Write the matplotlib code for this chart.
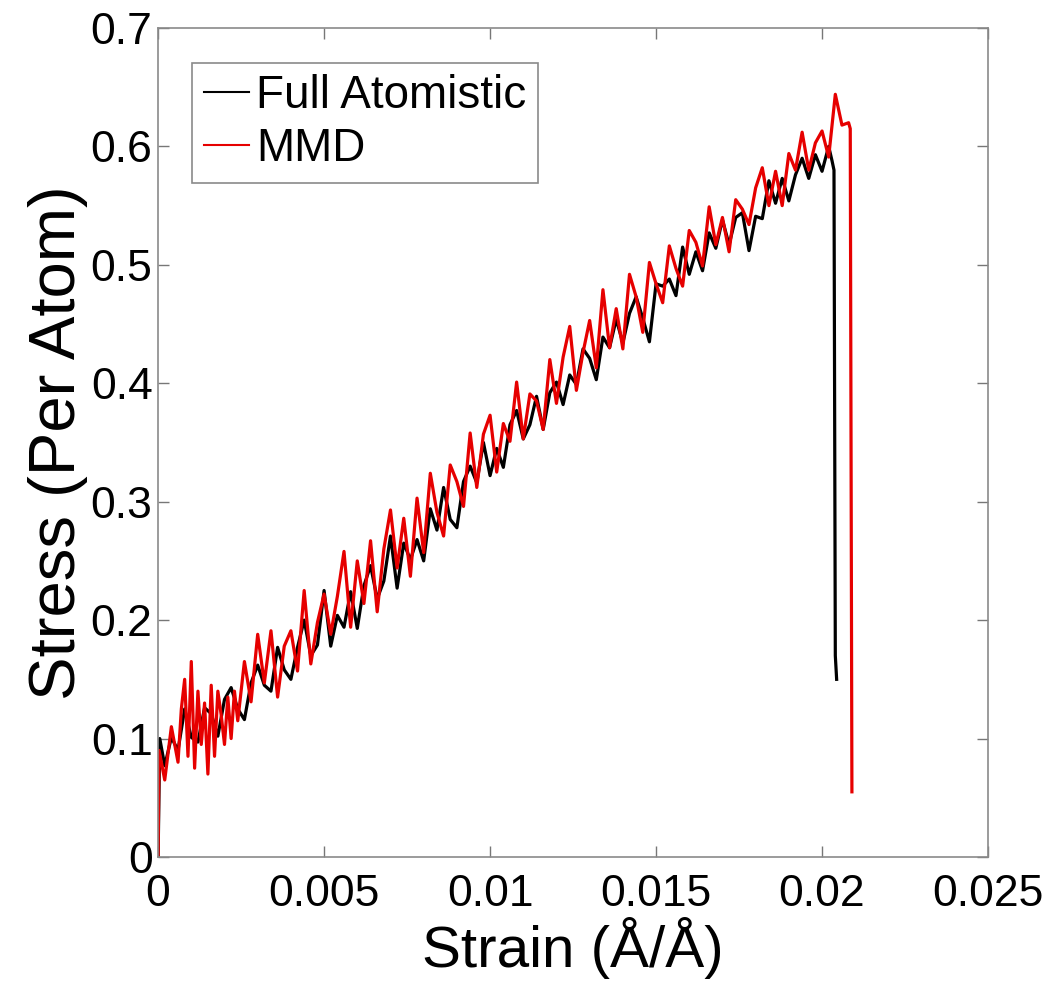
import matplotlib
import matplotlib.pyplot as plt

matplotlib.use("Agg")
plt.rcParams["font.family"] = ["Liberation Sans", "DejaVu Sans"]

# Full atomistic curve (strain, stress)
fa_strain = [
    0.0, 0.00005, 0.0002, 0.0004, 0.0006, 0.0008, 0.001, 0.0012, 0.0014, 0.0016,
    0.0018, 0.002, 0.0022, 0.0024, 0.0026, 0.0028, 0.003, 0.0032, 0.0034, 0.0036,
    0.0038, 0.004, 0.0042, 0.0044, 0.0046, 0.0048, 0.005, 0.0052, 0.0054, 0.0056,
    0.0058, 0.006, 0.0062, 0.0064, 0.0066, 0.0068, 0.007, 0.0072, 0.0074, 0.0076,
    0.0078, 0.008, 0.0082, 0.0084, 0.0086, 0.0088, 0.009, 0.0092, 0.0094, 0.0096,
    0.0098, 0.01, 0.0102, 0.0104, 0.0106, 0.0108, 0.011, 0.0112, 0.0114, 0.0116,
    0.0118, 0.012, 0.0122, 0.0124, 0.0126, 0.0128, 0.013, 0.0132, 0.0134, 0.0136,
    0.0138, 0.014, 0.0142, 0.0144, 0.0146, 0.0148, 0.015, 0.0152, 0.0154, 0.0156,
    0.0158, 0.016, 0.0162, 0.0164, 0.0166, 0.0168, 0.017, 0.0172, 0.0174, 0.0176,
    0.0178, 0.018, 0.0182, 0.0184, 0.0186, 0.0188, 0.019, 0.0192, 0.0194, 0.0196,
    0.0198, 0.02, 0.0202, 0.0203, 0.02036, 0.0204, 0.02044,
]
fa_stress = [
    0.0, 0.10, 0.077, 0.101, 0.090, 0.125, 0.101, 0.097, 0.126, 0.121,
    0.102, 0.133, 0.143, 0.125, 0.116, 0.147, 0.162, 0.145, 0.140, 0.177,
    0.158, 0.150, 0.177, 0.200, 0.170, 0.179, 0.225, 0.178, 0.204, 0.194,
    0.224, 0.193, 0.229, 0.246, 0.218, 0.233, 0.271, 0.227, 0.265, 0.251,
    0.268, 0.250, 0.294, 0.276, 0.312, 0.285, 0.278, 0.317, 0.330, 0.316,
    0.350, 0.322, 0.345, 0.329, 0.365, 0.377, 0.353, 0.365, 0.389, 0.361,
    0.392, 0.401, 0.382, 0.407, 0.399, 0.429, 0.421, 0.403, 0.439, 0.430,
    0.454, 0.434, 0.459, 0.473, 0.455, 0.435, 0.484, 0.482, 0.488, 0.474,
    0.515, 0.492, 0.511, 0.495, 0.527, 0.514, 0.538, 0.517, 0.540, 0.544,
    0.512, 0.541, 0.539, 0.571, 0.552, 0.573, 0.554, 0.576, 0.590, 0.573,
    0.593, 0.579, 0.600, 0.588, 0.580, 0.17, 0.15,
]

# MMD curve
mmd_strain = [
    0.0, 0.00003, 0.0002, 0.0004, 0.0006, 0.0007, 0.0008, 0.0009, 0.001, 0.0011,
    0.0012, 0.0013, 0.0014, 0.0015, 0.0016, 0.0017, 0.0018, 0.0019, 0.002, 0.0021,
    0.0022, 0.0023, 0.0024, 0.0026, 0.0028, 0.003, 0.0032, 0.0034, 0.0036, 0.0038,
    0.004, 0.0042, 0.0044, 0.0046, 0.0048, 0.005, 0.0052, 0.0054, 0.0056, 0.0058,
    0.006, 0.0062, 0.0064, 0.0066, 0.0068, 0.007, 0.0072, 0.0074, 0.0076, 0.0078,
    0.008, 0.0082, 0.0084, 0.0086, 0.0088, 0.009, 0.0092, 0.0094, 0.0096, 0.0098,
    0.01, 0.0102, 0.0104, 0.0106, 0.0108, 0.011, 0.0112, 0.0114, 0.0116, 0.0118,
    0.012, 0.0122, 0.0124, 0.0126, 0.0128, 0.013, 0.0132, 0.0134, 0.0136, 0.0138,
    0.014, 0.0142, 0.0144, 0.0146, 0.0148, 0.015, 0.0152, 0.0154, 0.0156, 0.0158,
    0.016, 0.0162, 0.0164, 0.0166, 0.0168, 0.017, 0.0172, 0.0174, 0.0176, 0.0178,
    0.018, 0.0182, 0.0184, 0.0186, 0.0188, 0.019, 0.0192, 0.0194, 0.0196, 0.0198,
    0.02, 0.0202, 0.0204, 0.0206, 0.0208, 0.02085, 0.0209,
]
mmd_stress = [
    0.0, 0.09, 0.065, 0.11, 0.08, 0.125, 0.15, 0.085, 0.165, 0.075,
    0.14, 0.095, 0.13, 0.07, 0.145, 0.085, 0.14, 0.12, 0.095, 0.135,
    0.10, 0.14, 0.115, 0.165, 0.131, 0.188, 0.147, 0.191, 0.135, 0.178,
    0.191, 0.157, 0.225, 0.163, 0.198, 0.222, 0.188, 0.220, 0.258, 0.194,
    0.250, 0.214, 0.267, 0.207, 0.260, 0.293, 0.244, 0.286, 0.237, 0.303,
    0.257, 0.324, 0.291, 0.271, 0.331, 0.317, 0.296, 0.358, 0.312, 0.357,
    0.373, 0.325, 0.366, 0.351, 0.401, 0.353, 0.391, 0.385, 0.361, 0.420,
    0.383, 0.422, 0.448, 0.394, 0.426, 0.453, 0.413, 0.479, 0.430, 0.463,
    0.429, 0.492, 0.473, 0.443, 0.502, 0.484, 0.468, 0.516, 0.497, 0.482,
    0.529, 0.519, 0.499, 0.549, 0.517, 0.540, 0.511, 0.555, 0.547, 0.534,
    0.565, 0.582, 0.550, 0.579, 0.550, 0.594, 0.580, 0.612, 0.580, 0.603,
    0.613, 0.591, 0.644, 0.618, 0.620, 0.615, 0.055,
]

x_ticks = [0, 0.005, 0.01, 0.015, 0.02, 0.025]
x_ticklabels = ["0", "0.005", "0.01", "0.015", "0.02", "0.025"]
y_ticks = [0, 0.1, 0.2, 0.3, 0.4, 0.5, 0.6, 0.7]
y_ticklabels = ["0", "0.1", "0.2", "0.3", "0.4", "0.5", "0.6", "0.7"]

fig = plt.figure(figsize=(10.54, 9.96), dpi=100)
ax = fig.add_axes([0.15, 0.1396, 0.7874, 0.8323])

ax.plot(fa_strain, fa_stress, color="black", linewidth=2.3, label="Full Atomistic")
ax.plot(mmd_strain, mmd_stress, color="#e60000", linewidth=2.3, label="MMD")

ax.set(xlim=(0, 0.025), ylim=(0, 0.7))
ax.set_xticks(x_ticks)
ax.set_xticklabels(x_ticklabels)
ax.set_yticks(y_ticks)
ax.set_yticklabels(y_ticklabels)
ax.tick_params(
    direction="in", length=8, width=1, color="#777777",
    labelsize=32, top=True, right=True,
)
ax.tick_params(axis="x", pad=12)
ax.tick_params(axis="y", pad=4)
for sp in ax.spines.values():
    sp.set_color("#8a8a8a")
    sp.set_linewidth(1.2)

ax.set_xlabel("Strain (Å/Å)", fontsize=42, labelpad=2)
ax.set_ylabel("Stress (Per Atom)", fontsize=47, labelpad=2)

leg = ax.legend(
    loc="upper left",
    bbox_to_anchor=(0.041, 0.958),
    borderaxespad=0,
    fontsize=33,
    handlelength=1.0,
    handletextpad=0.15,
    labelspacing=0.2,
    borderpad=0.25,
    fancybox=False,
    framealpha=1,
)
leg.get_frame().set_edgecolor("#8a8a8a")
leg.get_frame().set_linewidth(1.2)
for line in leg.get_lines():
    line.set_linewidth(1.5)

fig.savefig("out.png", dpi=100)
